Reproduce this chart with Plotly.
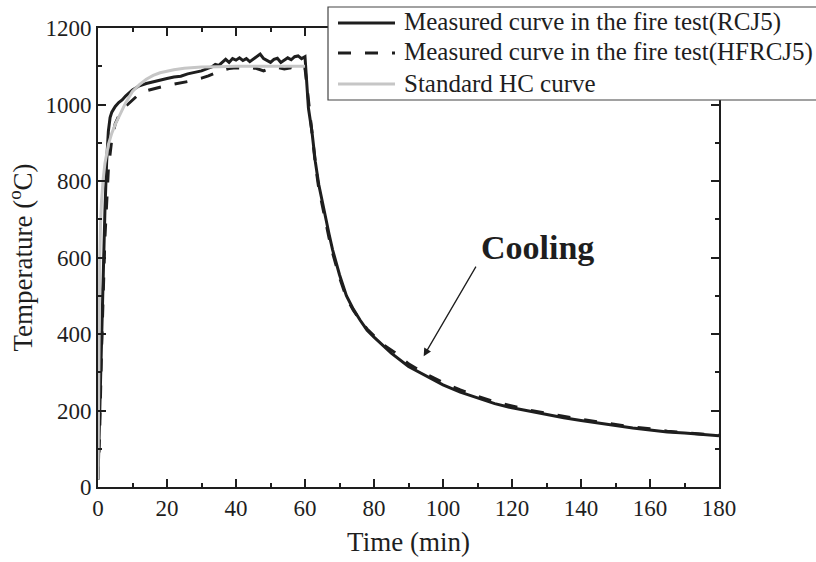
import plotly.graph_objects as go

# ---------------- data ----------------
time_rcj5 = [0, 0.5, 1, 1.5, 2, 2.5, 3, 3.5, 4, 5, 6, 7, 8, 10, 12, 14, 16, 18, 20, 22, 24,
             26, 28, 30, 32, 33, 34, 35, 36, 37, 38, 39, 40, 41, 42, 43, 44, 45, 46, 47, 48,
             49, 50, 51, 52, 53, 54, 55, 56, 57, 58, 59, 60, 61, 62, 63, 64, 65, 66, 67, 68,
             70, 72, 74, 76, 78, 80, 85, 90, 95, 100, 105, 110, 115, 120, 125, 130, 135,
             140, 145, 150, 155, 160, 165, 170, 175, 180]
temp_rcj5 = [20, 200, 420, 600, 720, 850, 930, 966, 980, 995, 1005, 1012, 1022, 1038, 1049,
             1055, 1060, 1064, 1068, 1072, 1074, 1080, 1083, 1088, 1095, 1098, 1105, 1102,
             1110, 1118, 1110, 1120, 1116, 1122, 1115, 1120, 1112, 1118, 1125, 1132, 1120,
             1114, 1110, 1118, 1121, 1110, 1116, 1122, 1117, 1125, 1127, 1120, 1125, 990,
             930, 850, 790, 745, 700, 660, 620, 555, 500, 465, 436, 410, 392, 350, 315, 290,
             267, 248, 232, 218, 207, 198, 190, 181, 174, 167, 160, 154, 149, 144, 141, 138,
             134]

time_hfrcj5 = [0, 0.5, 1, 1.5, 2, 3, 4, 5, 6, 8, 10, 12, 14, 16, 18, 20, 22, 24, 26, 28, 30,
               32, 34, 36, 38, 40, 42, 44, 46, 48, 50, 52, 54, 56, 58, 59, 60, 61, 62, 63, 64,
               65, 66, 67, 68, 70, 72, 74, 76, 78, 80, 83, 86, 90, 95, 100, 105, 110, 115,
               120, 125, 130, 135, 140, 145, 150, 155, 160, 165, 170, 175, 180]
temp_hfrcj5 = [20, 150, 350, 520, 650, 830, 910, 950, 970, 995, 1012, 1028, 1036, 1041, 1046,
               1050, 1053, 1056, 1060, 1065, 1069, 1075, 1082, 1090, 1094, 1096, 1095, 1097,
               1094, 1088, 1095, 1097, 1093, 1096, 1086, 1095, 1095, 1010, 930, 845, 780, 735,
               690, 650, 612, 548, 495, 462, 436, 413, 395, 370, 352, 322, 296, 273, 254, 237,
               223, 211, 201, 193, 184, 177, 170, 163, 157, 152, 146, 142, 139, 135]

time_hc = [0, 0.25, 0.5, 0.75, 1, 1.5, 2, 3, 4, 5, 6, 8, 10, 12, 14, 16, 18, 20, 22, 25, 30,
           35, 40, 50, 60]
temp_hc = [20, 450, 600, 690, 745, 805, 845, 895, 925, 948, 968, 1004, 1034, 1052, 1066, 1076,
           1083, 1088, 1091, 1095, 1098, 1099, 1100, 1100, 1100]

legend_labels = ["Measured curve in the fire test(RCJ5)",
                 "Measured curve in the fire test(HFRCJ5)",
                 "Standard HC curve"]

FONT = "Liberation Serif"
DARK = "#1e1e1e"
GRAY = "#c6c6c6"

fig = go.Figure()
fig.add_trace(go.Scatter(x=time_hfrcj5, y=temp_hfrcj5, mode="lines",
                         line=dict(color=DARK, width=3, dash="13px,14px"),
                         name=legend_labels[1], showlegend=False))
fig.add_trace(go.Scatter(x=time_rcj5, y=temp_rcj5, mode="lines",
                         line=dict(color=DARK, width=3),
                         name=legend_labels[0], showlegend=False))
fig.add_trace(go.Scatter(x=time_hc, y=temp_hc, mode="lines",
                         line=dict(color=GRAY, width=3),
                         name=legend_labels[2], showlegend=False))

axis_common = dict(
    showline=True, linecolor=DARK, linewidth=1.7, mirror="allticks",
    ticks="inside", ticklen=8, tickwidth=1.5, tickcolor=DARK,
    showgrid=False, zeroline=False,
    tickfont=dict(family=FONT, size=23, color=DARK),
)

fig.update_xaxes(range=[0, 180], dtick=20, tick0=0,
                 minor=dict(dtick=10, ticks="inside", ticklen=4, tickwidth=1.5, tickcolor=DARK),
                 title=dict(text="Time (min)", font=dict(family=FONT, size=27, color=DARK), standoff=12),
                 **axis_common)
fig.update_yaxes(range=[0, 1200], dtick=200, tick0=0,
                 minor=dict(dtick=100, ticks="inside", ticklen=4, tickwidth=1.5, tickcolor=DARK),
                 title=dict(text="Temperature (<sup>o</sup>C)", font=dict(family=FONT, size=27, color=DARK), standoff=5),
                 **axis_common)

# manual legend (box extends beyond right edge, as in the reference)
L, R, T, B = 98, 97, 28, 75
W, H = 816 - L - R, 562 - T - B
def px(x):
    return (x - L) / W
def py(y):
    return (562 - B - y) / H

shapes = [dict(type="rect", xref="paper", yref="paper", x0=px(328), x1=px(840),
               y0=py(100), y1=py(7), line=dict(color="#444", width=1.2),
               fillcolor="white", layer="above")]
row_y = [23, 53, 84]
styles = [dict(color=DARK, width=3), dict(color=DARK, width=3, dash="13px,14px"),
          dict(color=GRAY, width=3)]
for yy, st in zip(row_y, styles):
    shapes.append(dict(type="line", xref="paper", yref="paper", x0=px(338), x1=px(395),
                       y0=py(yy), y1=py(yy), line=st, layer="above"))

annotations = []
for yy, lab in zip(row_y, legend_labels):
    annotations.append(dict(xref="paper", yref="paper", x=px(402), y=py(yy - 1),
                            text=lab, showarrow=False, xanchor="left", yanchor="middle",
                            font=dict(family=FONT, size=25, color=DARK)))

annotations.append(dict(x=127.5, y=625, xref="x", yref="y", text="<b>Cooling</b>",
                        showarrow=False, font=dict(family=FONT, size=34, color=DARK)))
annotations.append(dict(x=94.4, y=342, ax=109.8, ay=580, xref="x", yref="y",
                        axref="x", ayref="y", text="", showarrow=True,
                        arrowhead=2, arrowsize=1.2, arrowwidth=1.3, arrowcolor=DARK))

fig.update_layout(
    width=816, height=562,
    margin=dict(l=L, r=R, t=T, b=B, autoexpand=False),
    paper_bgcolor="white", plot_bgcolor="white",
    shapes=shapes, annotations=annotations,
    showlegend=False,
)

fig.write_html("out.html")
